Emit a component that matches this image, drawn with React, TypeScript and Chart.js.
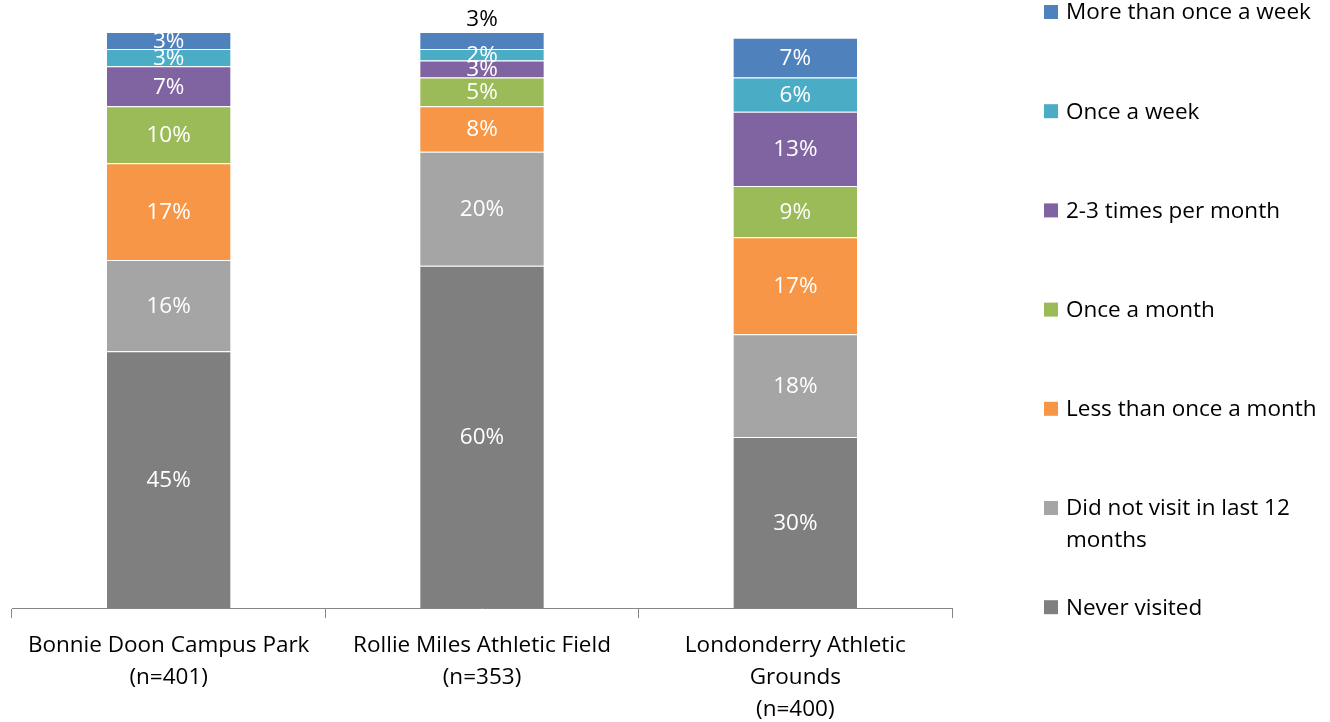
import React, { useEffect, useRef } from "react";
import { Chart, registerables } from "chart.js";

Chart.register(...registerables);

// Parks and the number of respondents for each
const categories: string[][] = [
  ["Bonnie Doon Campus Park", "(n=401)"],
  ["Rollie Miles Athletic Field", "(n=353)"],
  ["Londonderry Athletic", "Grounds", "(n=400)"],
];

// Visit frequency bands, bottom of the stack first
const seriesNames = [
  "Never visited",
  "Did not visit in last 12 months",
  "Less than once a month",
  "Once a month",
  "2-3 times per month",
  "Once a week",
  "More than once a week",
];

const seriesColors = [
  "#7F7F7F",
  "#A5A5A5",
  "#F79646",
  "#9BBB59",
  "#8064A2",
  "#4BACC6",
  "#4F81BD",
];

// Percent of respondents per park
const neverVisited = [45, 60, 30];
const notLast12Months = [16, 20, 18];
const lessThanMonthly = [17, 8, 17];
const onceAMonth = [10, 5, 9];
const twoThreePerMonth = [7, 3, 13];
const onceAWeek = [3, 2, 6];
const moreThanWeekly = [3, 3, 7];

const seriesValues = [
  neverVisited,
  notLast12Months,
  lessThanMonthly,
  onceAMonth,
  twoThreePerMonth,
  onceAWeek,
  moreThanWeekly,
];

const FONT = "'Open Sans', sans-serif";
const FONT_SIZE = 22.5;

// Value labels printed inside each segment; the thin top segment of the
// second park gets its label above the bar in black.
const valueLabels = {
  id: "valueLabels",
  afterDatasetsDraw(chart: Chart) {
    const ctx = chart.ctx;
    ctx.save();
    ctx.font = `${FONT_SIZE}px ${FONT}`;
    ctx.textAlign = "center";
    ctx.textBaseline = "middle";
    chart.data.datasets.forEach((ds, di) => {
      const meta = chart.getDatasetMeta(di);
      meta.data.forEach((bar: any, i) => {
        const v = ds.data[i] as number;
        const text = `${v}%`;
        const top = Math.min(bar.y, bar.base);
        const bottom = Math.max(bar.y, bar.base);
        const outside = di === seriesValues.length - 1 && i === 1;
        if (outside) {
          ctx.fillStyle = "#000000";
          ctx.fillText(text, bar.x, top - 12);
        } else {
          ctx.fillStyle = "#FFFFFF";
          ctx.fillText(text, bar.x, (top + bottom) / 2 + 1);
        }
      });
    });
    ctx.restore();
  },
};

// Legend listed top-down from most frequent visits, with wrapping text
const sideLegend = {
  id: "sideLegend",
  afterDraw(chart: Chart) {
    const ctx = chart.ctx;
    ctx.save();
    ctx.font = `${FONT_SIZE}px ${FONT}`;
    ctx.textAlign = "left";
    ctx.textBaseline = "middle";
    const boxX = 1044;
    const textX = 1066;
    const maxW = 258;
    const startY = 12;
    const step = 99.2;
    const lineH = 32;
    const order = seriesNames.map((_, i) => seriesNames.length - 1 - i);
    order.forEach((si, row) => {
      const y = startY + row * step;
      ctx.fillStyle = seriesColors[si];
      ctx.fillRect(boxX, y - 7, 14, 14);
      const words = seriesNames[si].split(" ");
      const lines: string[] = [];
      let cur = "";
      words.forEach((w) => {
        const test = cur ? cur + " " + w : w;
        if (ctx.measureText(test).width > maxW && cur) {
          lines.push(cur);
          cur = w;
        } else {
          cur = test;
        }
      });
      if (cur) lines.push(cur);
      ctx.fillStyle = "#000000";
      lines.forEach((ln, li) => ctx.fillText(ln, textX, y + li * lineH + 1));
    });
    ctx.restore();
  },
};

export default function App() {
  const ref = useRef<HTMLCanvasElement | null>(null);

  useEffect(() => {
    if (!ref.current) return;
    const chart = new Chart(ref.current, {
      type: "bar",
      data: {
        labels: categories,
        datasets: seriesNames.map((name, i) => ({
          label: name,
          data: seriesValues[i],
          backgroundColor: seriesColors[i],
          borderColor: "rgba(255,255,255,0.45)",
          borderWidth: 1,
          barPercentage: 0.4,
          categoryPercentage: 1,
        })),
      },
      options: {
        animation: false,
        responsive: false,
        maintainAspectRatio: false,
        layout: { padding: { left: 12, right: 378, top: 32, bottom: 0 } },
        plugins: {
          legend: { display: false },
          tooltip: { enabled: false },
        },
        scales: {
          x: {
            stacked: true,
            grid: {
              offset: true,
              drawOnChartArea: false,
              drawTicks: true,
              tickLength: 10,
              color: "#868686",
            },
            border: { color: "#868686", width: 1 },
            ticks: {
              color: "#000000",
              font: { family: FONT, size: FONT_SIZE, lineHeight: 32 / FONT_SIZE },
              padding: 12,
              maxRotation: 0,
              autoSkip: false,
            },
            afterFit(scale: any) {
              scale.height = 114;
            },
          },
          y: {
            stacked: true,
            display: false,
            min: 0,
            max: 101,
          },
        },
      },
      plugins: [valueLabels, sideLegend],
    });
    return () => chart.destroy();
  }, []);

  return (
    <div style={{ position: "fixed", left: 0, top: 0, width: 1330, height: 722, background: "#fff" }}>
      <canvas ref={ref} width={1330} height={722} style={{ display: "block" }} />
    </div>
  );
}
